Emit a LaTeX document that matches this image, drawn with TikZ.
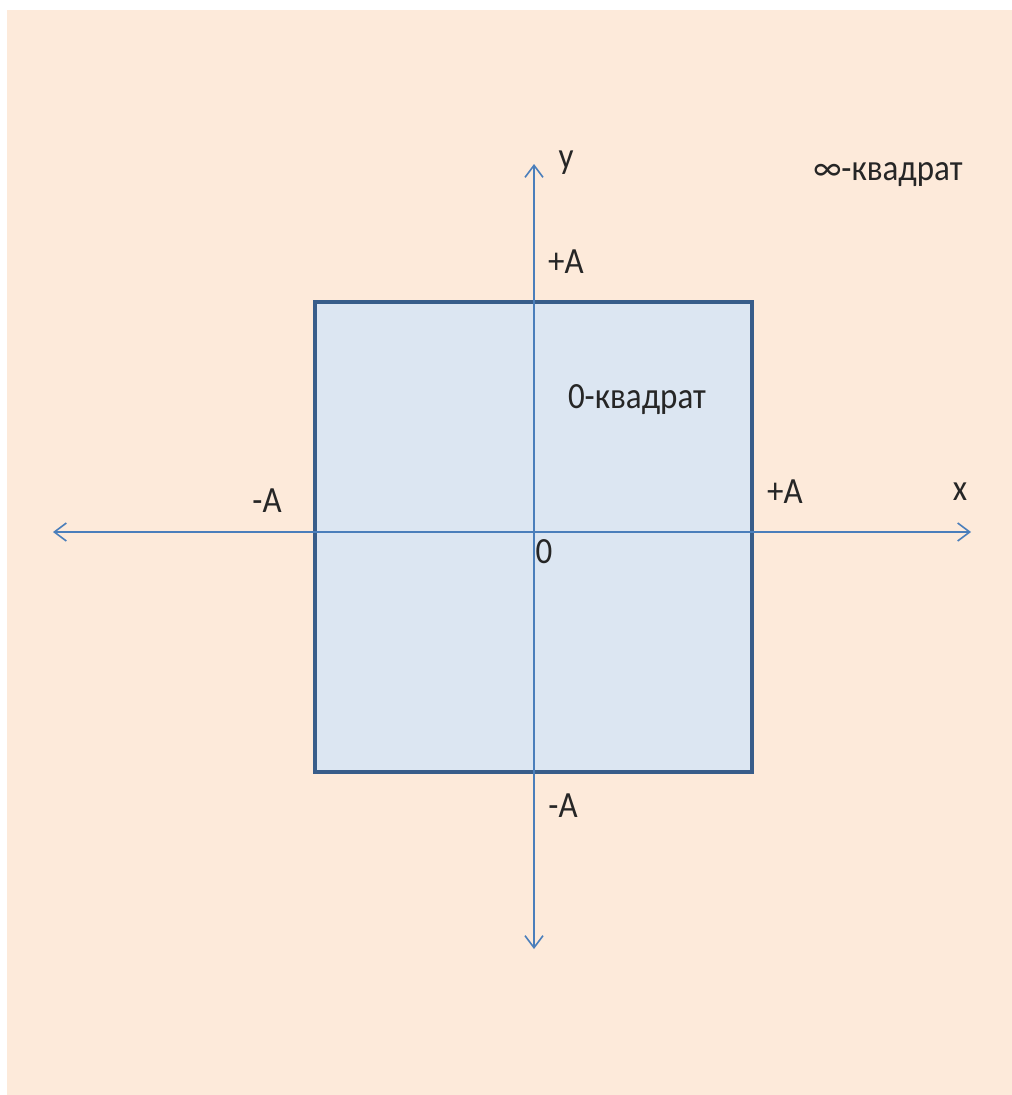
\documentclass[tikz,border=0pt]{standalone}
\usepackage{fontspec}
\setmainfont{Carlito}
\usetikzlibrary{arrows.meta}
\definecolor{peach}{HTML}{FDEADA}
\definecolor{sqfill}{HTML}{DCE6F2}
\definecolor{sqline}{HTML}{385D8A}
\definecolor{axis}{HTML}{4A7EBB}
\newcommand\tallt[1]{\scalebox{1}[1.12]{#1}}
\begin{document}
\begin{tikzpicture}[x=1pt,y=-1pt,
  lbl/.style={inner sep=0pt,font=\fontsize{33}{40}\selectfont,text=black!85},
  axisline/.style={draw=axis,line width=1.6pt,-{Straight Barb[length=12pt,width=18pt]},shorten >=0pt},
  sq/.style={draw=sqline,fill=sqfill,line width=4pt}]
\useasboundingbox (0,0) rectangle (1012,1095);
\fill[white] (0,0) rectangle (1012,1095);
\fill[peach] (7,10) rectangle (1012,1095);
\path[sq] (315,302) rectangle (752,772);
\coordinate (xl) at (53,532);
\coordinate (xr) at (971,532);
\coordinate (yt) at (534,164);
\coordinate (yb) at (534,949);
\coordinate (o) at (534,532);
\draw[axisline] (o) -- (xl);
\draw[axisline] (o) -- (xr);
\draw[axisline] (o) -- (yt);
\draw[axisline] (o) -- (yb);
\node[lbl] (ylab) at (566,163) {\tallt{y}};
\node[lbl] (xlab) at (960,492) {\tallt{x}};
\node[lbl] (atop) at (566,262) {\tallt{+A}};
\node[lbl] (abot) at (563,806) {\tallt{-A}};
\node[lbl] (aleft) at (267,501) {\tallt{-A}};
\node[lbl] (aright) at (785,492) {\tallt{+A}};
\node[lbl] (zero) at (544,552) {\tallt{0}};
\node[lbl] (q0) at (637,400) {\tallt{0-квадрат}};
\node[lbl] (qinf) at (888,175) {\tallt{∞-квадрат}};
\end{tikzpicture}
\end{document}
